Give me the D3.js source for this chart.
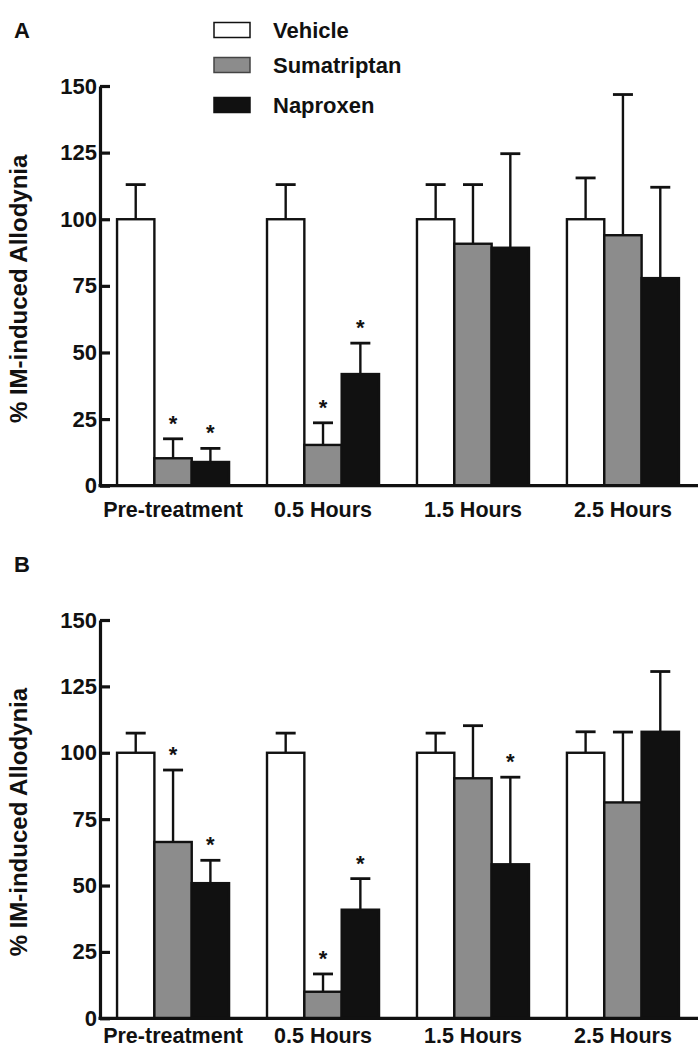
<!DOCTYPE html>
<html><head><meta charset="utf-8">
<script src="https://cdn.jsdelivr.net/npm/d3@7"></script>
<style>body{margin:0;background:#fff}svg{display:block}text{font-family:"Liberation Sans",Arial,sans-serif;font-weight:bold}</style>
</head><body><svg id="c" width="700" height="1050"></svg>
<script>
const categories = ["Pre-treatment", "0.5 Hours", "1.5 Hours", "2.5 Hours"];
const seriesNames = ["Vehicle", "Sumatriptan", "Naproxen"];
const seriesColors = ["#ffffff", "#8c8c8c", "#111111"];
const yTicks = [0, 25, 50, 75, 100, 125, 150];

// Panel A
const vehicleA = [100, 100, 100, 100];
const vehicleErrA = [113, 113, 113, 115.5];
const sumaA = [10.3, 15.3, 90.8, 94];
const sumaErrA = [17.6, 23.6, 113, 146.8];
const napA = [8.9, 41.9, 89.3, 77.9];
const napErrA = [14, 53.5, 124.6, 112];
const starsA = [[false, true, true], [false, true, true], [false, false, false], [false, false, false]];

// Panel B
const vehicleB = [100, 100, 100, 100];
const vehicleErrB = [107.4, 107.4, 107.4, 107.9];
const sumaB = [66.4, 10, 90.4, 81.3];
const sumaErrB = [93.5, 16.7, 110.2, 107.8];
const napB = [50.9, 40.9, 58, 107.9];
const napErrB = [59.5, 52.6, 90.8, 130.6];
const starsB = [[false, true, true], [false, true, true], [false, false, true], [false, false, false]];

const svg = d3.select("#c");

function panel(label, top, bottom, vals, errs, stars, labelPad) {
  const g = svg.append("g");
  const x = d3.scaleBand().domain(categories).range([98, 698]).paddingInner(0.253).paddingOuter(0.127);
  const xs = d3.scaleBand().domain(seriesNames).range([0, x.bandwidth()]);
  const y = d3.scaleLinear().domain([0, 150]).range([bottom, top]);

  const rows = [];
  categories.forEach((c, i) => {
    seriesNames.forEach((s, j) => {
      rows.push({c, s, j, v: vals[j][i], e: errs[j][i], star: stars[i][j]});
    });
  });

  const eb = g.selectAll(".eb").data(rows).enter().append("g");
  eb.append("line")
    .attr("x1", d => x(d.c) + xs(d.s) + xs.bandwidth() / 2)
    .attr("x2", d => x(d.c) + xs(d.s) + xs.bandwidth() / 2)
    .attr("y1", d => y(d.v)).attr("y2", d => y(d.e))
    .attr("stroke", "#111").attr("stroke-width", 2.4);
  eb.append("line")
    .attr("x1", d => x(d.c) + xs(d.s) + xs.bandwidth() / 2 - 10)
    .attr("x2", d => x(d.c) + xs(d.s) + xs.bandwidth() / 2 + 10)
    .attr("y1", d => y(d.e)).attr("y2", d => y(d.e))
    .attr("stroke", "#111").attr("stroke-width", 2.8);

  g.selectAll(".bar").data(rows).enter().append("rect")
    .attr("x", d => x(d.c) + xs(d.s))
    .attr("width", xs.bandwidth())
    .attr("y", d => y(d.v))
    .attr("height", d => y(0) - y(d.v))
    .attr("fill", d => seriesColors[d.j])
    .attr("stroke", "#111").attr("stroke-width", 2.4);

  g.selectAll(".star").data(rows.filter(d => d.star)).enter().append("text")
    .attr("x", d => x(d.c) + xs(d.s) + xs.bandwidth() / 2)
    .attr("y", d => y(d.e) - 8)
    .attr("text-anchor", "middle").attr("font-size", 22).attr("fill", "#111")
    .text("*");

  const ya = g.append("g").attr("transform", "translate(100,0)")
    .call(d3.axisLeft(y).tickValues(yTicks).tickSizeInner(-10).tickSizeOuter(0).tickPadding(3));
  ya.select(".domain").attr("stroke", "#111").attr("stroke-width", 3.2);
  ya.selectAll(".tick line").attr("stroke", "#111").attr("stroke-width", 3.2);
  ya.selectAll(".tick text").attr("font-size", 22).attr("fill", "#111")
    .style("font-family", '"Liberation Sans",Arial,sans-serif').style("font-weight", "bold");

  const xa = g.append("g").attr("transform", `translate(0,${bottom})`)
    .call(d3.axisBottom(x).tickSize(0).tickPadding(labelPad));
  xa.select(".domain").attr("d", "M98.5,0H698").attr("stroke", "#111").attr("stroke-width", 3.2);
  xa.selectAll(".tick text").attr("font-size", 21.5).attr("fill", "#111")
    .style("font-family", '"Liberation Sans",Arial,sans-serif').style("font-weight", "bold");

  g.append("text")
    .attr("transform", `translate(27,${(top + bottom) / 2 + 3}) rotate(-90)`)
    .attr("text-anchor", "middle").attr("font-size", 24).attr("fill", "#111")
    .text("% IM-induced Allodynia");

  g.append("text").attr("x", 14).attr("y", top - 48).attr("font-size", 22).attr("fill", "#111").text(label);
}

panel("A", 86, 485.7, [vehicleA, sumaA, napA], [vehicleErrA, sumaErrA, napErrA], starsA, 16);
panel("B", 620, 1018.3, [vehicleB, sumaB, napB], [vehicleErrB, sumaErrB, napErrB], starsB, 9);

const legendY = [30, 65, 105];
const lg = svg.append("g");
seriesNames.forEach((s, i) => {
  lg.append("rect").attr("x", 214).attr("y", legendY[i] - 7.5).attr("width", 36).attr("height", 15)
    .attr("fill", seriesColors[i]).attr("stroke", i === 1 ? "#444" : "#111").attr("stroke-width", 1.5);
  lg.append("text").attr("x", 273).attr("y", legendY[i] + 8).attr("font-size", 22).attr("fill", "#111").text(s);
});
</script></body></html>
